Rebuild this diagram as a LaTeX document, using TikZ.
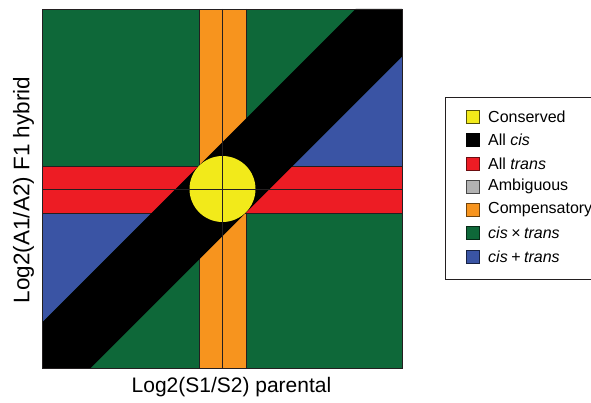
\documentclass[tikz,border=0pt]{standalone}
\usepackage{fontspec}
\setmainfont{Liberation Sans}
\definecolor{cgreen}{HTML}{0E6839}
\definecolor{corange}{HTML}{F7941E}
\definecolor{cred}{HTML}{ED1C24}
\definecolor{cblue}{HTML}{3A54A4}
\definecolor{cyellow}{HTML}{F2EA1A}
\definecolor{cgray}{HTML}{B2B2B2}
\definecolor{cline}{HTML}{231F20}
\tikzset{
  edge/.style={draw=cline, line width=0.9pt},
  swatch/.style={minimum width=13pt, minimum height=13pt, inner sep=0pt, line width=0.9pt},
  legtext/.style={anchor=west, inner sep=0pt, font=\fontsize{16}{18}\selectfont},
  axlabel/.style={inner sep=0pt, font=\fontsize{21}{24}\selectfont}
}
\begin{document}
\begin{tikzpicture}[x=1pt,y=-1pt]
\useasboundingbox (0,0) rectangle (591,403);
\begin{scope}
\clip (0,0) rectangle (591,403);
% background square
\fill[cgreen] (42,9) rectangle (402,368);
% blue triangles
\fill[cblue] (42,213) -- (151.5,213) -- (42,322.5) -- cycle;
\fill[cblue] (402,56.5) -- (402,166) -- (292.5,166) -- cycle;
% orange band
\fill[corange] (199,9) rectangle (246,368);
\draw[edge] (199,9) -- (199,368);
\draw[edge] (246,9) -- (246,368);
% red band
\fill[cred] (42,166) rectangle (402,213);
\draw[edge] (42,166) -- (402,166);
\draw[edge] (42,213) -- (402,213);
% black diagonal band with corner squares
\fill[black] (42,322.5) -- (355.5,9) -- (402,9) -- (402,56.5) -- (90.5,368) -- (42,368) -- cycle;
% conserved circle
\fill[cyellow] (222.5,189) circle[radius=33];
% centre lines
\draw[edge] (222.5,9) -- (222.5,368);
\draw[edge] (42,189) -- (402,189);
% outer frame
\draw[edge] (42,9) rectangle (402,368);
% axis labels
\node[axlabel] (xlab) at (231.5,387) {Log2(S1/S2) parental};
\node[axlabel, rotate=90, font=\fontsize{22.5}{26}\selectfont] (ylab) at (23.5,190) {Log2(A1/A2) F1 hybrid};
% legend
\draw[draw=cline, line width=0.9pt] (445.5,97.5) rectangle (620,279);
\node[swatch, fill=cyellow, draw=cyellow!35!black] (s1) at (472.5,117) {};
\node[swatch, fill=black, draw=black] (s2) at (472.5,140.25) {};
\node[swatch, fill=cred, draw=cred!45!black] (s3) at (472.5,163.5) {};
\node[swatch, fill=cgray, draw=cgray!40!black] (s4) at (472.5,186.75) {};
\node[swatch, fill=corange, draw=corange!45!black] (s5) at (472.5,210) {};
\node[swatch, fill=cgreen, draw=cgreen!40!black] (s6) at (472.5,233.25) {};
\node[swatch, fill=cblue, draw=cblue!40!black] (s7) at (472.5,256.5) {};
\node[legtext] (t1) at (488,117) {Conserved};
\node[legtext] (t2) at (488,140.25) {All \textit{cis}};
\node[legtext] (t3) at (488,163.5) {All \textit{trans}};
\node[legtext] (t4) at (488,186.75) {Ambiguous};
\node[legtext] (t5) at (488,210) {Compensatory};
\node[legtext] (t6) at (488,233.25) {\textit{cis}\hspace{3.5pt}×\hspace{3.5pt}\textit{trans}};
\node[legtext] (t7) at (488,256.5) {\textit{cis}\hspace{3.5pt}+\hspace{3.5pt}\textit{trans}};
\end{scope}
\end{tikzpicture}
\end{document}
